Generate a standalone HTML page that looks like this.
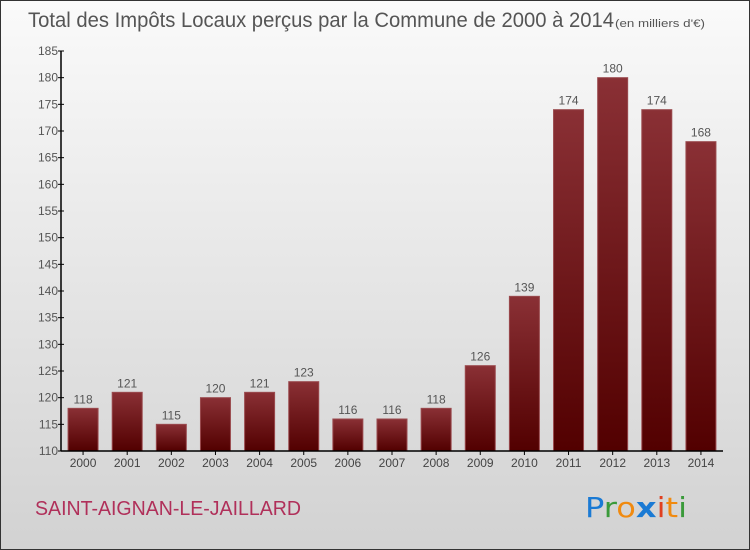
<!DOCTYPE html>
<html><head><meta charset="utf-8"><style>
body{margin:0;}
#c{position:relative;width:750px;height:550px;box-sizing:border-box;border:1px solid #333;background:linear-gradient(#fafafa,#d2d2d2);font-family:"Liberation Sans",sans-serif;overflow:hidden;}
</style></head><body>
<div id="c">
<svg width="748" height="548" style="position:absolute;left:0;top:0">
<defs><linearGradient id="g" x1="0" y1="0" x2="0" y2="1"><stop offset="0" stop-color="#8a3035"/><stop offset="1" stop-color="#520000"/></linearGradient></defs>
<text x="27" y="26" font-size="21" fill="#555" textLength="586" lengthAdjust="spacingAndGlyphs">Total des Impôts Locaux perçus par la Commune de 2000 à 2014</text>
<text x="614" y="26" font-size="11" fill="#555" textLength="90" lengthAdjust="spacingAndGlyphs">(en milliers d'€)</text>
<g id="plot"></g>
<text x="34" y="514" font-size="20" fill="#b0305a" textLength="266" lengthAdjust="spacingAndGlyphs">SAINT-AIGNAN-LE-JAILLARD</text>
<text x="584" y="516" font-size="28" font-family="DejaVu Sans, sans-serif" textLength="102" lengthAdjust="spacingAndGlyphs"><tspan fill="#1a7ad4">P</tspan><tspan fill="#3a9a3a">r</tspan><tspan fill="#f08a10">o</tspan><tspan fill="#1a7ad4" font-weight="bold">x</tspan><tspan fill="#e04020">i</tspan><tspan fill="#f08a10">t</tspan><tspan fill="#3a9a3a">i</tspan></text>
</svg>
</div>
<script>
const years=["2000","2001","2002","2003","2004","2005","2006","2007","2008","2009","2010","2011","2012","2013","2014"];
const values=[118,121,115,120,121,123,116,116,118,126,139,174,180,174,168];
const ticks=[110,115,120,125,130,135,140,145,150,155,160,165,170,175,180,185];
const NS="http://www.w3.org/2000/svg";
const g=document.getElementById('plot');
const x0=60,x1=722,yb=450,yt=50,vmin=110,vmax=185;
const y=v=>yb-(v-vmin)/(vmax-vmin)*(yb-yt);
const slot=(x1-x0)/years.length;
function el(t,a){const e=document.createElementNS(NS,t);for(const k in a)e.setAttribute(k,a[k]);g.appendChild(e);return e;}
values.forEach((v,i)=>{
 const cx=x0+slot*(i+0.5);
 const r=el('rect',{x:cx-15,y:y(v),width:30,height:yb-y(v),fill:'url(#g)',stroke:'#9a4a4e','stroke-width':1});
 
 
 const t=el('text',{x:cx,y:y(v)-5,'text-anchor':'middle','font-size':12,fill:'#555'});t.textContent=v;
 
 
 const xl=el('text',{x:cx,y:466,'text-anchor':'middle','font-size':12,fill:'#444'});xl.textContent=years[i];
 
 
 el('line',{x1:cx,x2:cx,y1:yb,y2:yb+4,stroke:'#000'});
});
ticks.forEach(v=>{
 el('line',{x1:x0-3,x2:x0+3,y1:y(v),y2:y(v),stroke:'#000'});
 const t=el('text',{x:x0-3,y:y(v)+4,'text-anchor':'end','font-size':12,fill:'#555'});t.textContent=v;
 
 
});
const ya=el('line',{x1:x0,x2:x0,y1:yt,y2:yb,stroke:'#000','stroke-width':1.5});


const xa=el('line',{x1:x0,x2:x1,y1:yb,y2:yb,stroke:'#000','stroke-width':1.5});


</script>
</body></html>
